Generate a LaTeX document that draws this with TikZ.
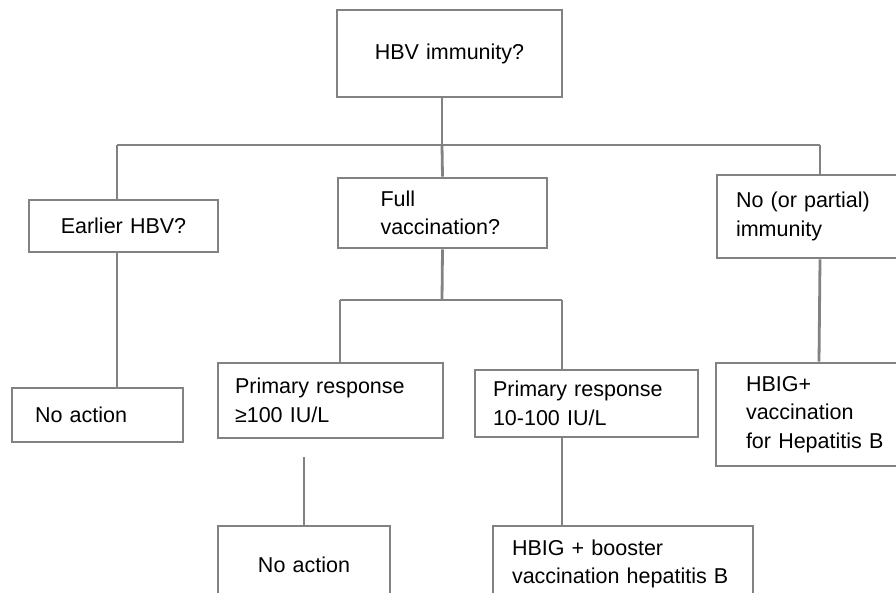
\documentclass[tikz,border=0pt]{standalone}
\usepackage{fontspec}
\setmainfont{Liberation Sans}
\usepackage{tikz}
\definecolor{linegray}{RGB}{130,130,130}

\begin{document}
\begin{tikzpicture}[x=1pt,y=-1pt,
  box/.style={draw=linegray,line width=2.8pt,fill=white,inner ysep=3pt,
    font=\fontsize{21.5}{28.5}\selectfont},
  link/.style={draw=linegray,line width=2.8pt}]
\useasboundingbox (0,0) rectangle (896,592);
\node[box,text width=205pt,inner xsep=10pt,minimum height=87pt,align=center] (top) at (449.5,53.5){HBV immunity?};
\node[box,text width=169pt,inner xsep=10pt,minimum height=52pt,align=center] (earlier) at (123.5,226){Earlier HBV?};
\node[box,text width=124pt,inner xsep=42.5pt,minimum height=70pt,align=left] (full) at (442.5,213){Full\\vaccination?};
\node[box,text width=168pt,inner xsep=19pt,minimum height=83pt,align=left] (nopart) at (820,216.5){No (or partial)\\immunity};
\node[box,text width=125pt,inner xsep=23pt,minimum height=54pt,align=left] (noact) at (97.5,415){No action};
\node[box,text width=191pt,inner xsep=17pt,minimum height=75pt,align=left] (primhi) at (330.5,400.5){Primary response\\≥100 IU/L};
\node[box,text width=187pt,inner xsep=18pt,minimum height=67pt,align=left] (primlo) at (586.5,403.5){Primary response\\10-100 IU/L};
\node[box,text width=146pt,inner xsep=30pt,minimum height=103pt,align=left] (hbig) at (819,414.5){HBIG+\\vaccination\\for Hepatitis B};
\node[box,text width=152pt,inner xsep=10pt,minimum height=78pt,align=center] (noactb) at (304,565){No action};
\node[box,text width=222pt,inner xsep=19pt,minimum height=76pt,align=left] (boost) at (623,564){HBIG + booster\\vaccination hepatitis B};
\coordinate (bus) at (442,145);
\coordinate (busl) at (117,145);
\coordinate (busr) at (820,145);
\coordinate (fork) at (442,300);
\coordinate (forkl) at (340,300);
\coordinate (forkr) at (562,300);
\coordinate (stub) at (304,457);
\foreach \from/\to in {busl/busr,bus/full.north,busr/nopart.north,full.south/fork,forkl/forkr,stub/noactb.north,nopart.south/hbig.north}
  \draw[link] (\from) -- (\to);
\draw[link] (bus |- top.south) -- (bus);
\draw[link] (busl) -- (busl |- earlier.north);
\draw[link] (busl |- earlier.south) -- (busl |- noact.north);
\draw[link] (forkl) -- (forkl |- primhi.north);
\draw[link] (forkr) -- (forkr |- primlo.north);
\draw[link] (forkr |- primlo.south) -- (forkr |- boost.north);
\end{tikzpicture}
\end{document}
